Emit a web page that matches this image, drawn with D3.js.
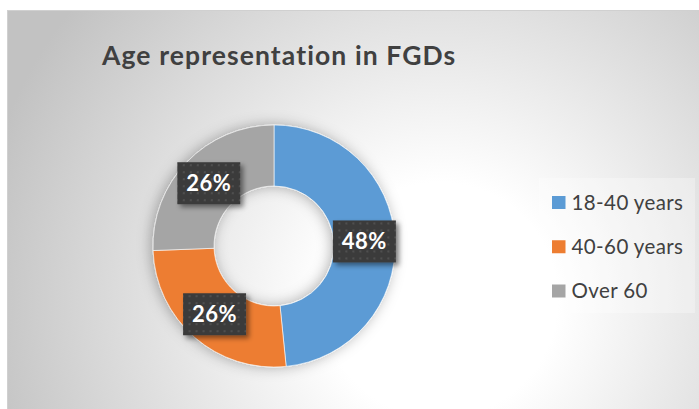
<!DOCTYPE html>
<html>
<head>
<meta charset="utf-8">
<script src="https://cdn.jsdelivr.net/npm/d3@7"></script>
<style>
html,body{margin:0;padding:0;background:#fff;}
svg{display:block;}
</style>
</head>
<body>
<svg id="chart" width="699" height="409"></svg>
<script>
const title = "Age representation in FGDs";
const categories = ["18-40 years", "40-60 years", "Over 60"];
const values = [48.4, 26.0, 25.6];
const colors = ["#5b9bd5", "#ed7d31", "#a5a5a5"];

const W = 699, H = 409;
const svg = d3.select("#chart");
const defs = svg.append("defs");

// background radial gradient
const rg = defs.append("radialGradient").attr("id","bg")
  .attr("gradientUnits","userSpaceOnUse")
  .attr("cx",440).attr("cy",300).attr("r",470);
rg.append("stop").attr("offset","0%").attr("stop-color","#ffffff");
rg.append("stop").attr("offset","25%").attr("stop-color","#ffffff");
rg.append("stop").attr("offset","100%").attr("stop-color","#c2c2c2");

// dotted pattern for label boxes
const pat = defs.append("pattern").attr("id","dots")
  .attr("patternUnits","userSpaceOnUse").attr("width",7).attr("height",7);
pat.append("rect").attr("width",7).attr("height",7).attr("fill","#3b3b3b");
pat.append("rect").attr("x",2).attr("y",2).attr("width",2).attr("height",2).attr("fill","#505050");

const fs = defs.append("filter").attr("id","lblShadow")
  .attr("x","-30%").attr("y","-30%").attr("width","170%").attr("height","170%");
fs.append("feDropShadow").attr("dx",3).attr("dy",3).attr("stdDeviation",2.5)
  .attr("flood-color","#000").attr("flood-opacity",0.45);

const fd = defs.append("filter").attr("id","donutShadow")
  .attr("x","-30%").attr("y","-30%").attr("width","160%").attr("height","160%");
fd.append("feDropShadow").attr("dx",-2).attr("dy",0).attr("stdDeviation",7)
  .attr("flood-color","#000").attr("flood-opacity",0.3);

// chart area
svg.append("rect").attr("x",7.5).attr("y",10.5).attr("width",W).attr("height",H)
  .attr("fill","url(#bg)").attr("stroke","#d0d0d0").attr("stroke-width",1);

// title
svg.append("text").attr("x",102).attr("y",64.5)
  .attr("font-family","Lato, 'Open Sans', sans-serif")
  .attr("font-weight","bold").attr("font-size",26.5)
  .attr("letter-spacing",1.1)
  .attr("fill","#404040").text(title);

// donut
const cx = 274, cy = 246, R = 121, r0 = 60;
const pie = d3.pie().sort(null).value(d => d);
const arcs = pie(values);
const arc = d3.arc().innerRadius(r0).outerRadius(R);
const labelArc = d3.arc().innerRadius((R + r0) / 2).outerRadius((R + r0) / 2);

const g = svg.append("g").attr("transform", `translate(${cx},${cy})`);
g.append("g").attr("filter","url(#donutShadow)")
  .selectAll("path").data(arcs).join("path")
  .attr("d", arc).attr("fill", (d,i) => colors[i])
  .attr("stroke","#fff").attr("stroke-width",0.6);

const fmt = d3.format(".0%");
const total = d3.sum(values);
const lbl = g.selectAll("g.lbl").data(arcs).join("g").attr("class","lbl")
  .attr("transform", d => { const c = labelArc.centroid(d); return `translate(${c[0]},${c[1]})`; });
lbl.append("rect").attr("x",-31.5).attr("y",-21).attr("width",63).attr("height",42)
  .attr("fill","url(#dots)").attr("filter","url(#lblShadow)");
lbl.append("text").attr("text-anchor","middle").attr("y",8)
  .attr("font-family","Lato, 'Open Sans', sans-serif")
  .attr("font-weight","bold").attr("font-size",22)
  .attr("letter-spacing",0.5)
  .attr("fill","#ffffff")
  .text(d => fmt(d.data / total));

// legend
svg.append("rect").attr("x",539).attr("y",178).attr("width",156).attr("height",135)
  .attr("fill","#ffffff").attr("fill-opacity",0.3);
const y = d3.scalePoint().domain(categories).range([202.5, 291]);
const lg = svg.selectAll("g.leg").data(categories).join("g").attr("class","leg")
  .attr("transform", d => `translate(552,${y(d)})`);
lg.append("rect").attr("x",0).attr("y",-6.5).attr("width",13.5).attr("height",13)
  .attr("fill",(d,i) => colors[i]);
lg.append("text").attr("x",19.5).attr("y",7)
  .attr("font-family","Lato, 'Open Sans', sans-serif")
  .attr("font-size",20.5).attr("letter-spacing",0.4)
  .attr("fill","#404040").text(d => d);
</script>
</body>
</html>
